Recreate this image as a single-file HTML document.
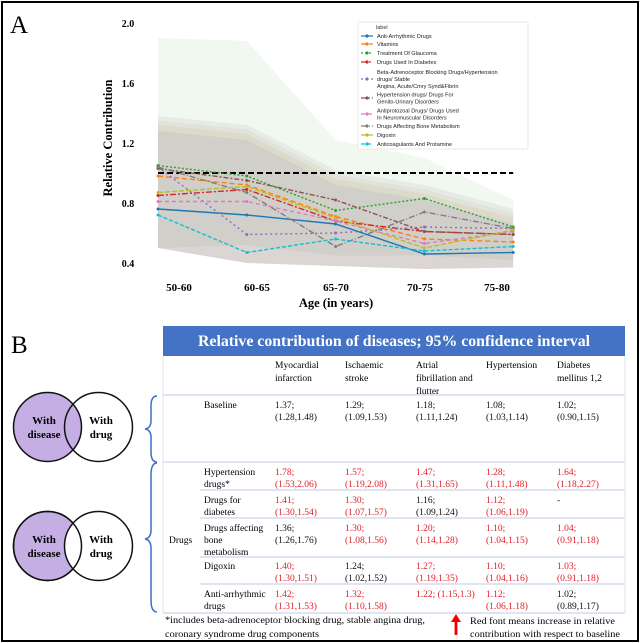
<!DOCTYPE html>
<html><head><meta charset="utf-8"><style>
html,body{margin:0;padding:0;background:#fff;overflow:hidden;}
svg{display:block;}
.serif{font-family:"Liberation Serif",serif;}
.sans{font-family:"Liberation Sans",sans-serif;}
</style></head>
<body>
<svg id="fig" width="640" height="643" viewBox="0 0 640 643">
  <rect x="2" y="2" width="636" height="639" fill="#fff" stroke="#000" stroke-width="2"/>
  <text x="10" y="33" class="serif" font-size="25">A</text>
  <g id="chart"></g>
  <g id="legend"></g>

  <!-- Panel B -->
  <text x="11" y="353" class="serif" font-size="25">B</text>
  <g>
    <ellipse cx="47.5" cy="427" rx="34" ry="34.5" fill="#c5aee4" stroke="#111" stroke-width="1.5"/>
    <ellipse cx="98.5" cy="427" rx="34" ry="34.5" fill="none" stroke="#111" stroke-width="1.5"/>
    <text x="44" y="424" text-anchor="middle" class="serif" font-size="11" font-weight="bold">With</text>
    <text x="44" y="438" text-anchor="middle" class="serif" font-size="11" font-weight="bold">disease</text>
    <text x="101" y="424" text-anchor="middle" class="serif" font-size="11" font-weight="bold">With</text>
    <text x="101" y="438" text-anchor="middle" class="serif" font-size="11" font-weight="bold">drug</text>
  </g>
  <g>
    <ellipse cx="47.5" cy="546" rx="34" ry="34.5" fill="#c5aee4" stroke="#111" stroke-width="1.5"/>
    <ellipse cx="98.5" cy="546" rx="34" ry="34.5" fill="#fff" stroke="#111" stroke-width="1.5"/>
    <ellipse cx="47.5" cy="546" rx="34" ry="34.5" fill="none" stroke="#111" stroke-width="1.5"/>
    <text x="44" y="543" text-anchor="middle" class="serif" font-size="11" font-weight="bold">With</text>
    <text x="44" y="557" text-anchor="middle" class="serif" font-size="11" font-weight="bold">disease</text>
    <text x="101" y="543" text-anchor="middle" class="serif" font-size="11" font-weight="bold">With</text>
    <text x="101" y="557" text-anchor="middle" class="serif" font-size="11" font-weight="bold">drug</text>
  </g>
  <path d="M157,396 Q151,396 151,406 L151,421 Q151,428 145,429 Q151,430 151,437 L151,452 Q151,462 157,462" fill="none" stroke="#3c6fc4" stroke-width="1.5"/>
  <path d="M157,463 Q151,463 151,475 L151,530 Q151,538 145,539 Q151,540 151,548 L151,600 Q151,612 157,612" fill="none" stroke="#3c6fc4" stroke-width="1.5"/>

  <rect x="163" y="326" width="462" height="30" fill="#4472c4"/>
  <text x="198" y="346" textLength="392" lengthAdjust="spacingAndGlyphs" class="serif" font-size="15.5" font-weight="bold" fill="#fff">Relative contribution of diseases; 95% confidence interval</text>
  <g id="table" class="serif" font-size="9.5"></g>

  <text class="serif" font-size="9"><tspan x="165" y="623" textLength="260" lengthAdjust="spacingAndGlyphs">*includes beta-adrenoceptor blocking drug, stable angina drug,</tspan><tspan x="165" y="637" textLength="154" lengthAdjust="spacingAndGlyphs">coronary syndrome drug components</tspan></text>
  <g>
    <polygon points="456,614 451,622 461,622" fill="#e00"/>
    <rect x="454.6" y="621" width="2.8" height="14" fill="#e00"/>
  </g>
  <text class="serif" font-size="9"><tspan x="470" y="624" textLength="145" lengthAdjust="spacingAndGlyphs">Red font means increase in relative</tspan><tspan x="470" y="637" textLength="150" lengthAdjust="spacingAndGlyphs">contribution with respect to baseline</tspan></text>
</svg>
<script>
const NS='http://www.w3.org/2000/svg';
const ages=['50-60','60-65','65-70','70-75','75-80'];
const yTicks=[0.4,0.8,1.2,1.6,2.0];
const seriesNames=['Anti-Arrhythmic Drugs','Vitamins','Treatment Of Glaucoma','Drugs Used In Diabetes','Beta-Adrenoceptor Blocking Drugs/Hypertension drugs/ Stable Angina, Acute/Cmry Synd&Fibrin','Hypertension drugs/ Drugs For Genito-Urinary Disorders','Antiprotozoal Drugs/ Drugs Used In Neuromuscular Disorders','Drugs Affecting Bone Metabolism','Digoxin','Anticoagulants And Protamine'];
const antiArr=[0.76,0.72,0.66,0.46,0.47];
const vitamins=[0.98,0.92,0.71,0.56,0.54];
const glaucoma=[1.05,0.98,0.75,0.83,0.64];
const diabetes=[0.85,0.89,0.68,0.61,0.59];
const betaBlock=[1.04,0.59,0.60,0.64,0.63];
const hyperGenito=[1.03,0.95,0.82,0.61,0.59];
const antiproto=[0.81,0.81,0.68,0.53,0.61];
const bone=[1.04,0.87,0.51,0.74,0.63];
const digoxin=[0.87,0.91,0.70,0.50,0.62];
const anticoag=[0.72,0.47,0.56,0.48,0.51];
const glaucomaUpper=[1.90,1.88,1.22,1.10,0.82];
const glaucomaLower=[0.50,0.52,0.45,0.45,0.42];
const otherUpper=[1.38,1.32,1.02,0.92,0.76];
const otherLower=[0.50,0.40,0.38,0.36,0.37];
const baselineValue=1.0;
const seriesValues=[antiArr,vitamins,glaucoma,diabetes,betaBlock,hyperGenito,antiproto,bone,digoxin,anticoag];
const colors=['#1f77b4','#ff7f0e','#2ca02c','#d62728','#9467bd','#8c564b','#e377c2','#7f7f7f','#bcbd22','#17becf'];
const dashes=['','5,3','2,2','6,2,2,2','2,3','5,2,2,2','4,3','6,2,1,2','5,2','4,2'];

const x0=158,dx=88.8;
function xs(i){return x0+i*dx;}
function ys(v){return 263-(v-0.4)*150;}
const chart=document.getElementById('chart');
function mk(tag,attrs,parent){const e=document.createElementNS(NS,tag);for(const k in attrs)e.setAttribute(k,attrs[k]);(parent||chart).appendChild(e);return e;}
function band(up,lo,color,op,name){
  let d='M'+up.map((v,i)=>xs(i)+','+ys(v)).join('L');
  d+='L'+lo.map((v,i)=>xs(i)+','+ys(v)).reverse().join('L')+'Z';
  const p=mk('path',{d:d,fill:color,'fill-opacity':op});
  
  
}
band(glaucomaUpper,glaucomaLower,'#2ca02c',0.07,'band-glaucoma');
[0,1,3,5,7,8].forEach(k=>{band(otherUpper.map((v,i)=>v-(k%3)*0.03),otherLower,colors[k],0.04,'band-'+k);});
[4,6,9].forEach(k=>{band(otherUpper.map(v=>v-0.1),otherLower,colors[k],0.04,'band-'+k);});

yTicks.forEach(t=>{const e=mk('text',{x:128,y:ys(t)+4,'text-anchor':'middle','font-size':10,'font-weight':'bold','class':'serif'});e.textContent=t.toFixed(1);

});
const labX=[179,257,336,420,497];
ages.forEach((a,i)=>{const e=mk('text',{x:labX[i],y:291,'text-anchor':'middle','font-size':11,'font-weight':'bold','class':'serif'});e.textContent=a;

});
let t=mk('text',{x:336,y:307,'text-anchor':'middle','font-size':12.5,'font-weight':'bold','class':'serif'});t.textContent='Age (in years)';


t=mk('text',{x:0,y:0,'text-anchor':'middle','font-size':12.5,'font-weight':'bold','class':'serif',transform:'translate(112,138) rotate(-90)'});t.textContent='Relative Contribution';



let bl=mk('line',{x1:xs(0),x2:xs(4),y1:ys(baselineValue),y2:ys(baselineValue),stroke:'#000','stroke-width':2,'stroke-dasharray':'6,3'});


seriesValues.forEach((vals,k)=>{
  const g=mk('g',{});
  
  
  mk('polyline',{points:vals.map((v,i)=>xs(i)+','+ys(v)).join(' '),fill:'none',stroke:colors[k],'stroke-width':1.4,'stroke-dasharray':dashes[k]},g);
  vals.forEach((v,i)=>{const c=mk('circle',{cx:xs(i),cy:ys(v),r:1.5,fill:colors[k]},g);
  
  });
});

// legend
const lg=document.getElementById('legend');
mk('rect',{x:358,y:22,width:170,height:127,fill:'#fff','fill-opacity':0.85,stroke:'#ddd','stroke-width':0.6},lg);
let lt=mk('text',{x:376,y:29,'font-size':5.5,'class':'sans',fill:'#333'},lg);lt.textContent='label';
const legLines=[['Anti-Arrhythmic Drugs'],['Vitamins'],['Treatment Of Glaucoma'],['Drugs Used In Diabetes'],['Beta-Adrenoceptor Blocking Drugs/Hypertension','drugs/ Stable','Angina, Acute/Cmry Synd&Fibrin'],['Hypertension drugs/ Drugs For','Genito-Urinary Disorders'],['Antiprotozoal Drugs/ Drugs Used','In Neuromuscular Disorders'],['Drugs Affecting Bone Metabolism'],['Digoxin'],['Anticoagulants And Protamine']];
const legY=[36,44,53,62,79,98,114,126,135,144];
legLines.forEach((lines,k)=>{
  const g=mk('g',{},lg);
  
  
  mk('line',{x1:361,x2:373,y1:legY[k],y2:legY[k],stroke:colors[k],'stroke-width':1.2,'stroke-dasharray':dashes[k]},g);
  mk('circle',{cx:367,cy:legY[k],r:1.6,fill:colors[k]},g);
  const y0=legY[k]-(lines.length-1)*3.5+2;
  lines.forEach((s,j)=>{const e=mk('text',{x:377,y:y0+j*7,'font-size':5.6,'class':'sans',fill:'#222'},g);e.textContent=s;});
});

// table
const tb=document.getElementById('table');
const colX=[275,345,416,486,557];
const heads=[['Myocardial','infarction'],['Ischaemic','stroke'],['Atrial','fibrillation and','flutter'],['Hypertension'],['Diabetes','mellitus 1,2']];
heads.forEach((h,i)=>h.forEach((s,j)=>{const e=mk('text',{x:colX[i],y:368+j*13},tb);e.textContent=s;}));
const rowLines=[[163,395],[163,462],[200,490],[200,518],[200,557],[200,584],[163,613]];
rowLines.forEach(r=>mk('line',{x1:r[0],x2:625,y1:r[1],y2:r[1],stroke:'#c9d3e6','stroke-width':1.2},tb));
mk('line',{x1:163,x2:163,y1:356,y2:613,stroke:'#dde4f0','stroke-width':1},tb);
mk('line',{x1:625,x2:625,y1:356,y2:613,stroke:'#dde4f0','stroke-width':1},tb);
const rows=[
 {y:408,label:['Baseline'],cells:[['1.37;','(1.28,1.48)',0],['1.29;','(1.09,1.53)',0],['1.18;','(1.11,1.24)',0],['1.08;','(1.03,1.14)',0],['1.02;','(0.90,1.15)',0]]},
 {y:475,label:['Hypertension','drugs*'],cells:[['1.78;','(1.53,2.06)',1],['1.57;','(1.19,2.08)',1],['1.47;','(1.31,1.65)',1],['1.28;','(1.11,1.48)',1],['1.64;','(1.18,2.27)',1]]},
 {y:503,label:['Drugs for','diabetes'],cells:[['1.41;','(1.30,1.54)',1],['1.30;','(1.07,1.57)',1],['1.16;','(1.09,1.24)',0],['1.12;','(1.06,1.19)',1],['-','',0]]},
 {y:531,label:['Drugs affecting','bone','metabolism'],cells:[['1.36;','(1.26,1.76)',0],['1.30;','(1.08,1.56)',1],['1.20;','(1.14,1.28)',1],['1.10;','(1.04,1.15)',1],['1.04;','(0.91,1.18)',1]]},
 {y:569,label:['Digoxin'],cells:[['1.40;','(1.30,1.51)',1],['1.24;','(1.02,1.52)',0],['1.27;','(1.19,1.35)',1],['1.10;','(1.04,1.16)',1],['1.03;','(0.91,1.18)',1]]},
 {y:597,label:['Anti-arrhythmic','drugs'],cells:[['1.42;','(1.31,1.53)',1],['1.32;','(1.10,1.58)',1],['1.22; (1.15,1.3)','',1],['1.12;','(1.06,1.18)',1],['1.02;','(0.89,1.17)',0]]}
];
rows.forEach(r=>{
  const g=mk('g',{},tb);
  
  
  r.label.forEach((s,j)=>{const e=mk('text',{x:204,y:r.y+j*12},g);e.textContent=s;});
  r.cells.forEach((c,i)=>{const col=c[2]?'#e0202a':'#111';
    let e=mk('text',{x:colX[i],y:r.y,fill:col},g);e.textContent=c[0];
    if(c[1]){e=mk('text',{x:colX[i],y:r.y+12,fill:col},g);e.textContent=c[1];}
  });
});
let dl=mk('text',{x:169,y:543},tb);dl.textContent='Drugs';


</script>
</body></html>
